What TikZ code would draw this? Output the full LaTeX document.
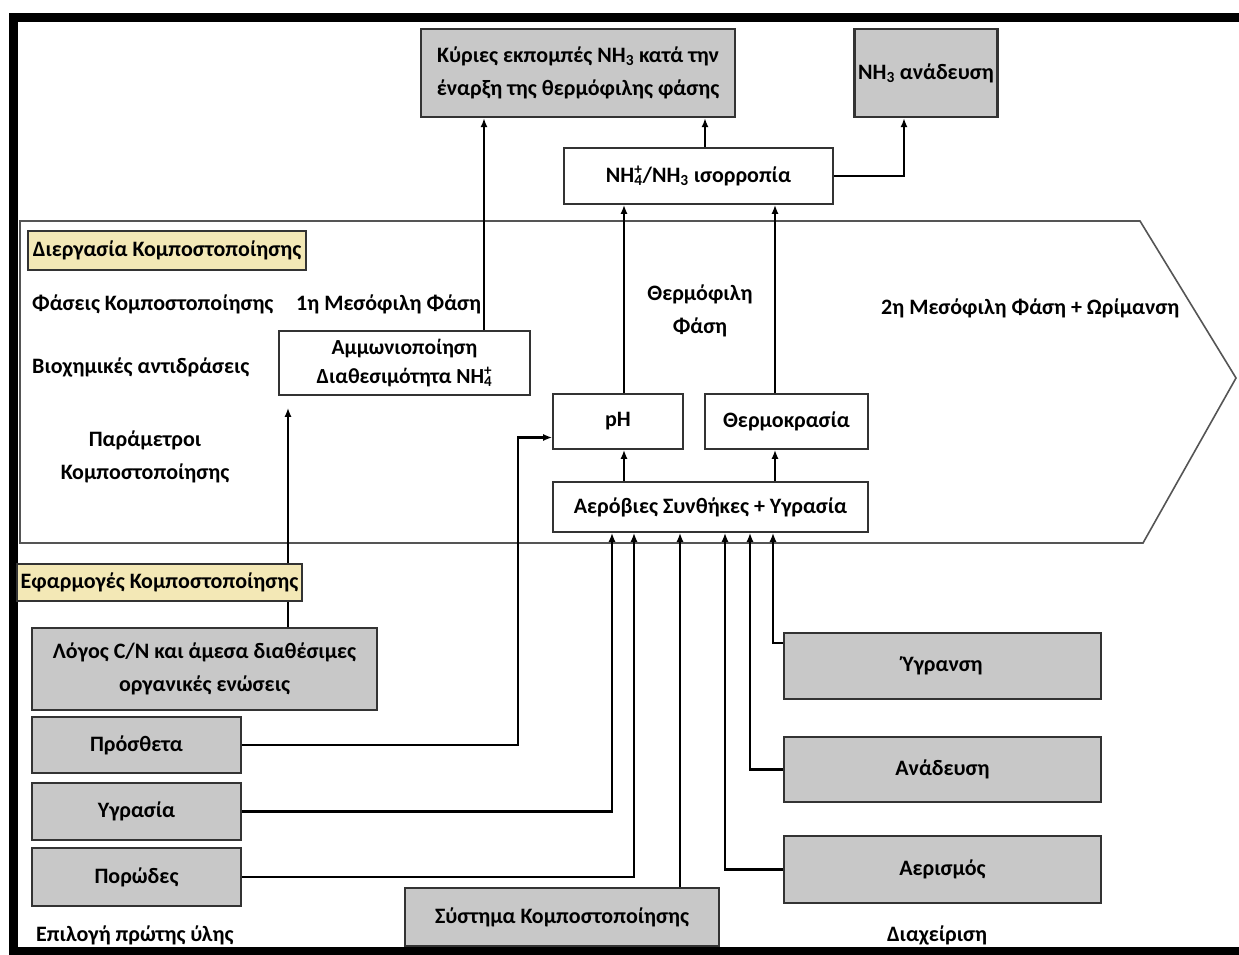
\documentclass[tikz,border=0pt]{standalone}
\usepackage{fontspec}
\setmainfont{Carlito}
\usetikzlibrary{arrows.meta}
\definecolor{boxgray}{HTML}{C8C8C8}
\definecolor{edgecol}{HTML}{333333}
\definecolor{pale}{HTML}{F3E8B6}
\definecolor{pentcol}{HTML}{555555}
\newcommand{\NHfour}{NH\rlap{\textsuperscript{+}}\textsubscript{4}}
\newcommand{\NHthree}{NH\textsubscript{3}}
\begin{document}
\begin{tikzpicture}[x=1pt,y=-1pt,
  font=\bfseries\fontsize{22}{33}\selectfont,
  sz/.style 2 args={minimum width=#1pt, minimum height=#2pt},
  gbox/.style={draw=edgecol, line width=2.2pt, fill=boxgray, inner sep=0pt, align=center},
  wbox/.style={draw=edgecol, line width=1.6pt, fill=white, inner sep=0pt, align=center},
  ybox/.style={draw=edgecol, line width=1.6pt, fill=pale, inner sep=0pt, align=left},
  lbl/.style={inner sep=0pt, align=center},
  arr/.style={line width=2.4pt, -{Latex[length=9pt,width=7pt]}}]
\useasboundingbox (0,0) rectangle (1239,955);
\fill[white] (0,0) rectangle (1239,955);
% outer frame
\draw[line width=9pt, line join=miter] (1245,17.5) -- (13,17.5) -- (13,951) -- (1245,951);
% process arrow
\draw[pentcol, line width=1.6pt] (20,221) -- (1140,221) -- (1236,378) -- (1143,543) -- (20,543) -- cycle;

% column coordinates
\coordinate (cA) at (484,0);
\coordinate (cB) at (705,0);
\coordinate (cC) at (904,0);
\coordinate (cD) at (624,0);
\coordinate (cE) at (775,0);
\coordinate (cF) at (288,0);
\coordinate (cG) at (518,0);
\coordinate (cH) at (612,0);
\coordinate (cI) at (634,0);
\coordinate (cJ) at (680,0);
\coordinate (cK) at (725,0);
\coordinate (cL) at (750,0);
\coordinate (cM) at (773,0);

% top boxes
\node[gbox, sz={314}{88}] (kyr) at (578,73) {Κύριες εκπομπές \NHthree{} κατά την\\έναρξη της θερμόφιλης φάσης};
\node[gbox, sz={143}{88}] (anad3) at (926,73) {\NHthree{} ανάδευση};
\node[wbox, sz={269}{56}] (iso) at (698.5,176) {\NHfour/\NHthree{} ισορροπία};

% inside the process arrow
\node[wbox, sz={251}{64}, font=\bfseries\fontsize{21.5}{29}\selectfont] (amm) at (404.5,363) {Αμμωνιοποίηση\\Διαθεσιμότητα \NHfour};
\node[wbox, sz={130}{55}] (ph) at (618,421.5) {pH};
\node[wbox, sz={163}{55}] (therm) at (786.5,421.5) {Θερμοκρασία};
\node[wbox, sz={315}{50}] (aer) at (710.5,507) {Αερόβιες Συνθήκες + Υγρασία};

\node[ybox, sz={278}{39}] (dier) at (167,250.5) {Διεργασία Κομποστοποίησης};
\node[lbl, anchor=west] (phaseis) at (32,304) {Φάσεις Κομποστοποίησης};
\node[lbl, anchor=west] (meso1) at (296,304) {1η Μεσόφιλη Φάση};
\node[lbl, anchor=west] (bioch) at (32,367) {Βιοχημικές αντιδράσεις};
\node[lbl] (param) at (145,457) {Παράμετροι\\Κομποστοποίησης};
\node[lbl] (thermo) at (700,311) {Θερμόφιλη\\Φάση};
\node[lbl, anchor=west] (meso2) at (881,308) {2η Μεσόφιλη Φάση + Ωρίμανση};

% lower boxes
\node[gbox, sz={345}{82}] (logos) at (204.5,669) {Λόγος C/N και άμεσα διαθέσιμες\\οργανικές ενώσεις};
\node[gbox, sz={209}{56}] (prosth) at (136.5,745) {Πρόσθετα};
\node[gbox, sz={209}{57}] (ygr) at (136.5,811.5) {Υγρασία};
\node[gbox, sz={209}{58}] (por) at (136.5,877) {Πορώδες};
\node[lbl, anchor=west] (epil) at (36,935) {Επιλογή πρώτης ύλης};
\node[gbox, sz={314}{58}] (syst) at (562,917) {Σύστημα Κομποστοποίησης};
\node[gbox, sz={317}{66}] (ygransi) at (942.5,666) {Ύγρανση};
\node[gbox, sz={317}{65}] (anadeusi) at (942.5,769.5) {Ανάδευση};
\node[gbox, sz={317}{67}] (aeris) at (942.5,869.5) {Αερισμός};
\node[lbl] (diax) at (937,935) {Διαχείριση};

\coordinate (phin) at ([yshift=-16pt]ph.west);
\coordinate (ygout) at ([yshift=23pt]ygransi.west);

% connectors: top
\draw[arr] (cA |- amm.north) -- (cA |- kyr.south);
\draw[arr] (cB |- iso.north) -- (cB |- kyr.south);
\draw[arr] (iso.east) -- (cC |- iso.east) -- (cC |- anad3.south);
\draw[arr] (cD |- ph.north) -- (cD |- iso.south);
\draw[arr] (cE |- therm.north) -- (cE |- iso.south);
\draw[arr] (cD |- aer.north) -- (cD |- ph.south);
\draw[arr] (cE |- aer.north) -- (cE |- therm.south);

% connectors: from raw material and management
\draw[arr, shorten >=12pt] (cF |- logos.north) -- (cF |- amm.south);
\draw[arr] (prosth.east) -- (cG |- prosth.east) -- (cG |- phin) -- (phin);
\draw[arr] (ygr.east) -- (cH |- ygr.east) -- (cH |- aer.south);
\draw[arr] (por.east) -- (cI |- por.east) -- (cI |- aer.south);
\draw[arr] (cJ |- syst.north) -- (cJ |- aer.south);
\draw[arr] (aeris.west) -- (cK |- aeris.west) -- (cK |- aer.south);
\draw[arr] (anadeusi.west) -- (cL |- anadeusi.west) -- (cL |- aer.south);
\draw[arr] (ygout) -- (cM |- ygout) -- (cM |- aer.south);

% label drawn over the connector
\node[ybox, sz={285}{37}] (efar) at (159.5,582.5) {Εφαρμογές Κομποστοποίησης};
\end{tikzpicture}
\end{document}
